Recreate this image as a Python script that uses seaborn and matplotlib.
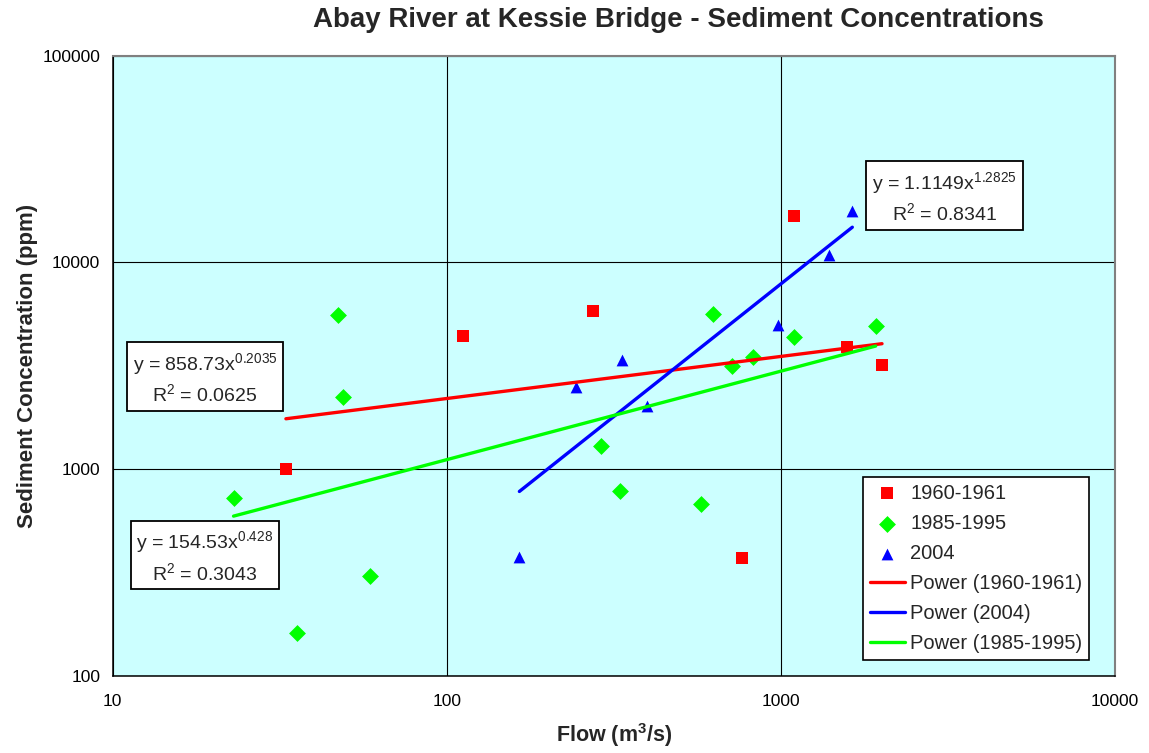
import numpy as np
import pandas as pd
import matplotlib
matplotlib.use("Agg")
import matplotlib.pyplot as plt
import seaborn as sns
from matplotlib.ticker import FixedLocator, FuncFormatter, NullLocator

# Flow (m3/s) and sediment concentration (ppm) samples per period
flow_1960 = [33.0, 112, 275, 767, 1098, 1583, 2010]
conc_1960 = [1000, 4420, 5830, 371, 16700, 3880, 3200]

flow_1985 = [23.0, 35.6, 47.2, 48.8, 58.9, 290, 330, 578, 626, 713, 824, 1098, 1924]
conc_1985 = [726, 161, 5540, 2240, 304, 1290, 785, 677, 5600, 3150, 3470, 4370, 4920]

flow_2004 = [165, 243, 335, 399, 980, 1392, 1638]
conc_2004 = [374, 2480, 3370, 2020, 4990, 10840, 17770]

# Power-law trend y = a * x**b and its R^2 per period
fit_1960 = (858.73, 0.2035, 0.0625)
fit_1985 = (154.53, 0.428, 0.3043)
fit_2004 = (1.1149, 1.2825, 0.8341)

period_labels = ["1960-1961", "1985-1995", "2004"]
x_ticks = [10, 100, 1000, 10000]
y_ticks = [100, 1000, 10000, 100000]

sns.set_style("white")
plt.rcParams["font.family"] = ["Liberation Sans", "DejaVu Sans"]
plt.rcParams["mathtext.fontset"] = "custom"
plt.rcParams["mathtext.rm"] = "Liberation Sans"
plt.rcParams["mathtext.bf"] = "Liberation Sans:bold"
plt.rcParams["mathtext.default"] = "regular"

RED, GREEN, BLUE = "#FF0000", "#00FF00", "#0000FF"

fig = plt.figure(figsize=(11.49, 7.53), dpi=100)
ax = fig.add_axes([0.0981, 0.1027, 0.8721, 0.8235])
ax.set_facecolor("#CCFFFF")
ax.set_xscale("log")
ax.set_yscale("log")
ax.set_xlim(10, 10000)
ax.set_ylim(100, 100000)

df = pd.concat([
    pd.DataFrame({"flow": flow_1960, "conc": conc_1960, "period": period_labels[0]}),
    pd.DataFrame({"flow": flow_1985, "conc": conc_1985, "period": period_labels[1]}),
    pd.DataFrame({"flow": flow_2004, "conc": conc_2004, "period": period_labels[2]}),
])

styles = {
    period_labels[0]: dict(marker="s", s=70, color=RED),
    period_labels[1]: dict(marker="D", s=74, color=GREEN),
    period_labels[2]: dict(marker="^", s=72, color=BLUE),
}
for name, st in styles.items():
    sub = df[df["period"] == name]
    sns.scatterplot(data=sub, x="flow", y="conc", ax=ax, label=name,
                    linewidth=0, zorder=3, **st)

# Trend lines drawn over each period's flow range
def trend(flows, fit, color, label):
    a, b, _ = fit
    xs = np.geomspace(min(flows), max(flows), 60)
    sns.lineplot(x=xs, y=a * xs ** b, ax=ax, color=color, lw=2.4,
                 label=label, zorder=4, sort=False)

trend(flow_1960, fit_1960, RED, "Power (1960-1961)")
trend(flow_2004, fit_2004, BLUE, "Power (2004)")
trend(flow_1985, fit_1985, GREEN, "Power (1985-1995)")

# Axes, grid and ticks
ax.xaxis.set_major_locator(FixedLocator(x_ticks))
ax.yaxis.set_major_locator(FixedLocator(y_ticks))
ax.xaxis.set_minor_locator(NullLocator())
ax.yaxis.set_minor_locator(NullLocator())
fmt = FuncFormatter(lambda v, p: f"{v:.0f}")
ax.xaxis.set_major_formatter(fmt)
ax.yaxis.set_major_formatter(fmt)
ax.grid(True, which="major", color="black", lw=0.8, zorder=0)
ax.set_axisbelow(True)
ax.tick_params(axis="both", which="major", direction="out", length=4,
               width=1, color="black", labelsize=12.5, labelcolor="black")
ax.tick_params(axis="y", pad=5)
ax.tick_params(axis="x", pad=9)
for side in ["left", "bottom"]:
    ax.spines[side].set_color("black")
    ax.spines[side].set_linewidth(1.1)
for side in ["top", "right"]:
    ax.spines[side].set_color("#808080")
    ax.spines[side].set_linewidth(1.5)
    ax.spines[side].set_visible(True)

ax.set_xlabel("Flow (m$^{\\mathbf{3}}$/s)", fontsize=15.5, fontweight="bold", labelpad=9)
ax.set_ylabel("Sediment Concentration (ppm)", fontsize=16, fontweight="bold", labelpad=3)
fig.text(678 / 1149, 1 - 20 / 753,
         "Abay River at Kessie Bridge - Sediment Concentrations",
         ha="center", va="center", fontsize=20, fontweight="bold")

# Equation boxes
def eq_box(fx, fy, fit):
    a, b, r2 = fit
    txt = f"y = {a:g}x$^{{{b:g}}}$\nR$^2$ = {r2:.4f}"
    ax.text(fx, fy, txt, transform=ax.transAxes, ha="center", va="center",
            multialignment="center", fontsize=14, linespacing=1.35, zorder=6,
            bbox=dict(boxstyle="square,pad=0.3", fc="white", ec="black", lw=1.3))

eq_box(0.830, 0.772, fit_2004)
eq_box(0.092, 0.480, fit_1960)
eq_box(0.092, 0.192, fit_1985)

handles, labels = ax.get_legend_handles_labels()
leg = ax.legend(handles, labels, loc="upper left", bbox_to_anchor=(0.7485, 0.3209),
                borderaxespad=0, frameon=True, fancybox=False, shadow=False,
                fontsize=14.5, labelspacing=0.55, handlelength=1.75,
                handletextpad=0.25, borderpad=0.35, scatterpoints=1)
leg.get_frame().set_edgecolor("black")
leg.get_frame().set_linewidth(1.2)
leg.get_frame().set_facecolor("white")
leg.get_frame().set_alpha(1)
leg.set_zorder(7)

fig.savefig("out.png", dpi=100, facecolor="white")
